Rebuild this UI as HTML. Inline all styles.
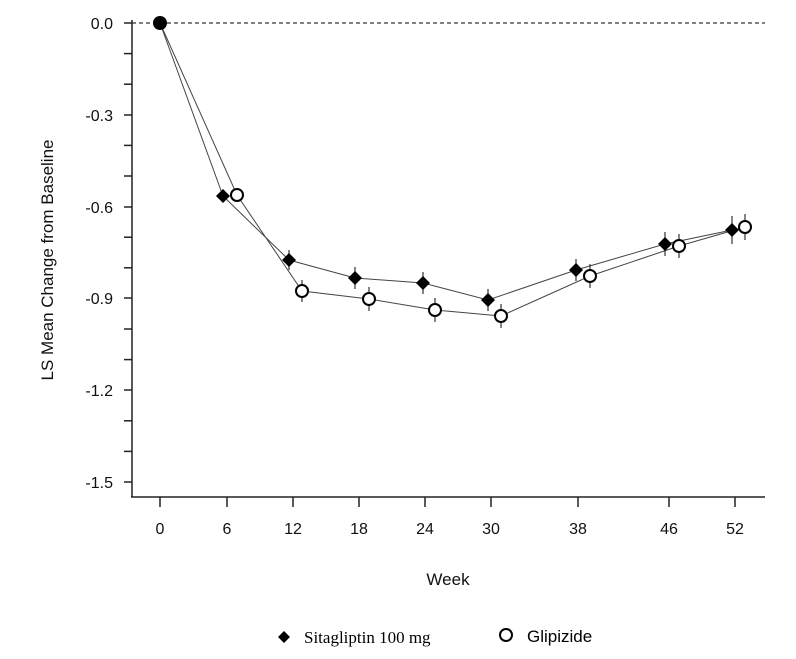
<!DOCTYPE html><html><head><style>body{margin:0;background:#fff}svg{display:block}</style></head><body>
<svg width="796" height="659" xmlns="http://www.w3.org/2000/svg" font-family="Liberation Sans, Arial, sans-serif">
<rect width="796" height="659" fill="#fff"/>
<line x1="132" y1="23" x2="765" y2="23" stroke="#000" stroke-width="1" stroke-dasharray="4,3"/>
<g stroke="#222" stroke-width="1.5">
<line x1="132" y1="20" x2="132" y2="497"/><line x1="131" y1="497" x2="765" y2="497"/>
<line x1="124" y1="23" x2="132" y2="23"/><line x1="124" y1="53.6" x2="132" y2="53.6"/><line x1="124" y1="84.2" x2="132" y2="84.2"/><line x1="124" y1="115" x2="132" y2="115"/><line x1="124" y1="145.4" x2="132" y2="145.4"/><line x1="124" y1="176" x2="132" y2="176"/><line x1="124" y1="207" x2="132" y2="207"/><line x1="124" y1="237.2" x2="132" y2="237.2"/><line x1="124" y1="267.8" x2="132" y2="267.8"/><line x1="124" y1="298" x2="132" y2="298"/><line x1="124" y1="329" x2="132" y2="329"/><line x1="124" y1="359.6" x2="132" y2="359.6"/><line x1="124" y1="390" x2="132" y2="390"/><line x1="124" y1="420.8" x2="132" y2="420.8"/><line x1="124" y1="451.4" x2="132" y2="451.4"/><line x1="124" y1="482" x2="132" y2="482"/>
<line x1="160" y1="497" x2="160" y2="507"/><line x1="227" y1="497" x2="227" y2="507"/><line x1="293" y1="497" x2="293" y2="507"/><line x1="359" y1="497" x2="359" y2="507"/><line x1="425" y1="497" x2="425" y2="507"/><line x1="491" y1="497" x2="491" y2="507"/><line x1="578" y1="497" x2="578" y2="507"/><line x1="669" y1="497" x2="669" y2="507"/><line x1="735" y1="497" x2="735" y2="507"/>
</g>
<g font-size="16" fill="#111" text-anchor="end">
<text x="113" y="29">0.0</text><text x="113" y="121">-0.3</text><text x="113" y="213">-0.6</text><text x="113" y="304">-0.9</text><text x="113" y="396">-1.2</text><text x="113" y="488">-1.5</text>
</g>
<g font-size="16" fill="#111" text-anchor="middle">
<text x="160" y="534">0</text><text x="227" y="534">6</text><text x="293" y="534">12</text><text x="359" y="534">18</text><text x="425" y="534">24</text><text x="491" y="534">30</text><text x="578" y="534">38</text><text x="669" y="534">46</text><text x="735" y="534">52</text>
<text x="448" y="585" font-size="17">Week</text>
<text transform="translate(53,260) rotate(-90)" font-size="17">LS Mean Change from Baseline</text>
</g>
<g stroke="#444" stroke-width="1" fill="none">
<polyline points="160,23 223,196 289,260 355,278 423,283 488,300 576,270 665,244 732,230"/>
<polyline points="160,23 237,195 302,291 369,299 435,310 501,316 590,276 679,246 745,227"/>
</g>
<g stroke="#333" stroke-width="1.2">
<line x1="289" y1="250" x2="289" y2="270"/><line x1="355" y1="267" x2="355" y2="289"/><line x1="423" y1="272" x2="423" y2="294"/><line x1="488" y1="289" x2="488" y2="311"/><line x1="576" y1="259" x2="576" y2="281"/><line x1="665" y1="232" x2="665" y2="256"/><line x1="732" y1="216" x2="732" y2="244"/>
<line x1="302" y1="280" x2="302" y2="302"/><line x1="369" y1="287" x2="369" y2="311"/><line x1="435" y1="298" x2="435" y2="322"/><line x1="501" y1="304" x2="501" y2="328"/><line x1="590" y1="264" x2="590" y2="288"/><line x1="679" y1="234" x2="679" y2="258"/><line x1="745" y1="214" x2="745" y2="240"/>
</g>
<g fill="#000">
<circle cx="160" cy="23" r="7"/>
<path d="M223 189l7 7-7 7-7-7z"/><path d="M289 253l7 7-7 7-7-7z"/><path d="M355 271l7 7-7 7-7-7z"/><path d="M423 276l7 7-7 7-7-7z"/><path d="M488 293l7 7-7 7-7-7z"/><path d="M576 263l7 7-7 7-7-7z"/><path d="M665 237l7 7-7 7-7-7z"/><path d="M732 223l7 7-7 7-7-7z"/>
</g>
<g fill="#fff" stroke="#000" stroke-width="2">
<circle cx="237" cy="195" r="6"/><circle cx="302" cy="291" r="6"/><circle cx="369" cy="299" r="6"/><circle cx="435" cy="310" r="6"/><circle cx="501" cy="316" r="6"/><circle cx="590" cy="276" r="6"/><circle cx="679" cy="246" r="6"/><circle cx="745" cy="227" r="6"/>
</g>
<path d="M284 631l6 6-6 6-6-6z" fill="#000"/>
<text x="304" y="643" font-family="Liberation Serif, serif" font-size="17" fill="#000">Sitagliptin 100 mg</text>
<circle cx="506" cy="635" r="6" fill="#fff" stroke="#000" stroke-width="2"/>
<text x="527" y="642" font-size="17" fill="#000">Glipizide</text>
</svg>
</body></html>
